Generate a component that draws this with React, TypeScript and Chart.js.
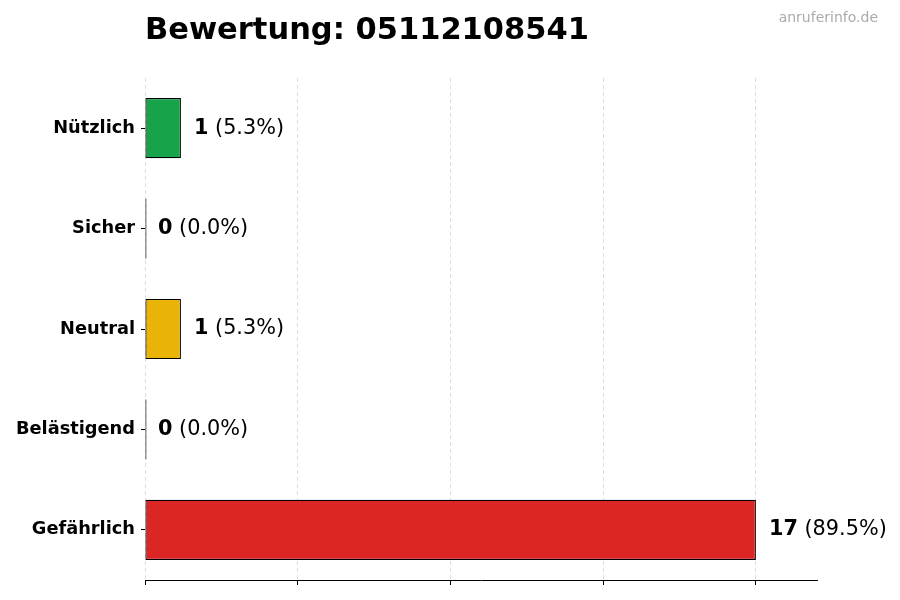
import React, { useEffect, useRef } from 'react';
import { Chart, registerables } from 'chart.js';

Chart.register(...registerables);

const categories = ['Nützlich', 'Sicher', 'Neutral', 'Belästigend', 'Gefährlich'];
const counts = [1, 0, 1, 0, 17];
const percentLabels = ['5.3%', '0.0%', '5.3%', '0.0%', '89.5%'];
const barColors = ['#16a34a', '#eab308', '#eab308', '#dc2626', '#dc2626'];
const xTickValues = [0, 4.25, 8.5, 12.75, 17];
const xMax = 18.7;

const chartTitle = 'Bewertung: 05112108541';
const watermark = 'anruferinfo.de';
const FONT = '"DejaVu Sans", sans-serif';

// draws "N (p%)" to the right of each bar, number in bold
const valueLabels = {
  id: 'valueLabels',
  afterDatasetsDraw(chart: any) {
    const { ctx } = chart;
    const xScale = chart.scales.x;
    const meta = chart.getDatasetMeta(0);
    meta.data.forEach((bar: any, i: number) => {
      const x = xScale.getPixelForValue(counts[i]) + 13;
      const y = bar.y;
      ctx.save();
      ctx.textBaseline = 'middle';
      ctx.textAlign = 'left';
      ctx.fillStyle = '#000';
      const num = String(counts[i]);
      ctx.font = `bold 20.8px ${FONT}`;
      ctx.fillText(num, x, y);
      const w = ctx.measureText(num).width;
      ctx.font = `20.8px ${FONT}`;
      ctx.fillText(` (${percentLabels[i]})`, x + w, y);
      ctx.restore();
    });
  },
};

const headerText = {
  id: 'headerText',
  afterDraw(chart: any) {
    const { ctx, chartArea } = chart;
    ctx.save();
    ctx.textBaseline = 'middle';
    ctx.textAlign = 'left';
    ctx.fillStyle = '#000';
    ctx.font = `bold 30.5px ${FONT}`;
    ctx.fillText(chartTitle, chartArea.left, 31);
    ctx.textAlign = 'right';
    ctx.fillStyle = '#aaaaaa';
    ctx.font = `14px ${FONT}`;
    ctx.fillText(watermark, 878, 18);
    ctx.restore();
  },
};

const RatingChart: React.FC = () => {
  const chartRef = useRef<HTMLCanvasElement>(null);
  const chartInstanceRef = useRef<Chart | null>(null);

  useEffect(() => {
    if (!chartRef.current) return;
    const ctx = chartRef.current.getContext('2d');
    if (!ctx) return;

    if (chartInstanceRef.current) {
      chartInstanceRef.current.destroy();
    }

    chartInstanceRef.current = new Chart(ctx, {
      type: 'bar',
      data: {
        labels: categories,
        datasets: [
          {
            data: counts,
            backgroundColor: barColors,
            borderColor: '#000',
            borderWidth: 1.2,
            borderSkipped: false,
            minBarLength: 1.5,
            barPercentage: 0.6,
            categoryPercentage: 1,
          },
        ],
      },
      options: {
        indexAxis: 'y',
        responsive: true,
        maintainAspectRatio: false,
        animation: false,
        layout: {
          padding: { top: 78, bottom: 15, left: 0, right: 83 },
        },
        scales: {
          x: {
            min: 0,
            max: xMax,
            afterBuildTicks: (scale: any) => {
              scale.ticks = xTickValues.map((v) => ({ value: v }));
            },
            ticks: { display: false },
            grid: {
              display: true,
              color: '#d4d4d4',
              lineWidth: 0.8,
              drawTicks: true,
              tickLength: 5,
              tickColor: '#000',
              tickWidth: 1,
              tickBorderDash: [],
            },
            border: { display: true, color: '#000', width: 1, dash: [4, 3] },
          },
          y: {
            afterFit: (scale: any) => {
              scale.width = 145;
            },
            ticks: {
              color: '#000',
              padding: 6,
              font: { family: FONT, size: 17.8, weight: 'bold' },
            },
            grid: {
              display: true,
              offset: false,
              drawOnChartArea: false,
              drawTicks: true,
              tickLength: 4,
              tickColor: '#000',
            },
            border: { display: false },
          },
        },
        plugins: {
          legend: { display: false },
          title: { display: false },
          tooltip: { enabled: false },
        },
      },
      plugins: [valueLabels, headerText],
    } as any);

    return () => {
      if (chartInstanceRef.current) {
        chartInstanceRef.current.destroy();
        chartInstanceRef.current = null;
      }
    };
  }, []);

  return (
    <div style={{ position: 'fixed', left: 0, top: 0, width: 900, height: 600, background: '#fff' }}>
      <canvas ref={chartRef}></canvas>
    </div>
  );
};

export default function App() {
  return <RatingChart />;
}
